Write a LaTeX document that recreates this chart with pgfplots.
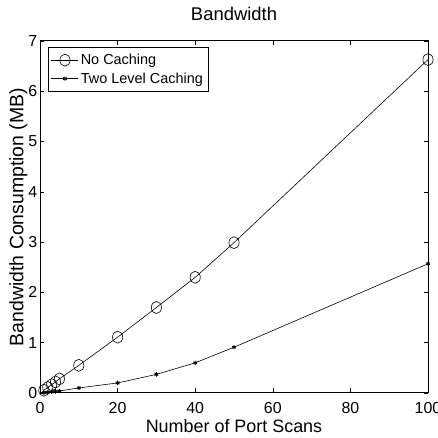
\documentclass[border=0pt]{standalone}
\usepackage{fontspec}
\setmainfont{Liberation Sans}
\usepackage{pgfplots}
\pgfplotsset{compat=1.18}

\begin{document}
\begin{tikzpicture}
\begin{axis}[
    scale only axis,
    width=388bp, height=352bp,
    xmin=0, xmax=100,
    ymin=0, ymax=7,
    xtick={0,20,40,60,80,100},
    ytick={0,1,2,3,4,5,6,7},
    tick align=inside,
    major tick length=4.5bp,
    axis line style={line width=1bp},
    tick style={line width=0.6bp, black},
    /pgf/number format/assume math mode=true,
    tick label style={font=\fontsize{16}{18}\selectfont, inner sep=0pt},
    xticklabel style={anchor=north, yshift=-9bp},
    yticklabel style={anchor=east, xshift=-2.5bp},
    title={Bandwidth},
    title style={font=\fontsize{18.5}{20}\selectfont, at={(axis description cs:0.5,1)}, anchor=base, yshift=15bp, inner sep=0pt},
    xlabel={Number of Port Scans},
    xlabel style={font=\fontsize{18}{20}\selectfont, at={(axis description cs:0.5,0)}, anchor=base, yshift=-39.3bp, inner sep=0pt},
    ylabel={Bandwidth Consumption (MB)},
    ylabel style={font=\fontsize{19.5}{21}\selectfont, at={(axis description cs:-0.043,0.5)}, anchor=base, inner sep=0pt},
    legend style={at={(axis description cs:0,1)}, anchor=north west, xshift=8bp, yshift=-6bp,
        font=\fontsize{14.5}{15}\selectfont, draw=black, inner xsep=3bp, inner ysep=5bp,
        row sep=2.5bp, nodes={inner sep=2bp}},
    legend cell align=left,
    legend image code/.code={
        \draw[mark repeat=2, mark phase=2, #1] plot coordinates {(5bp,0bp) (18.5bp,0bp) (32bp,0bp)};
    },
]
\addplot[black, line width=0.6bp, mark=o, mark size=6bp, mark options={xscale=0.85}]
    coordinates {
    (1,0.055)(2,0.11)(3,0.165)(4,0.22)(5,0.28)(10,0.55)(20,1.11)(30,1.70)(40,2.30)(50,2.99)(100,6.63)
    };
\addlegendentry{No Caching}
\addplot[black, line width=0.6bp, mark=asterisk, mark size=2.2bp, mark options={line width=0.9bp}]
    coordinates {
    (1,0.008)(2,0.016)(3,0.024)(4,0.032)(5,0.04)(10,0.1)(20,0.20)(30,0.37)(40,0.60)(50,0.91)(100,2.57)
    };
\addlegendentry{Two Level Caching}
\end{axis}
\pgfresetboundingbox
\path (current axis.south west) ++(-40bp,-45bp) rectangle ([shift={(10bp,41bp)}]current axis.north east);
\end{tikzpicture}
\end{document}
